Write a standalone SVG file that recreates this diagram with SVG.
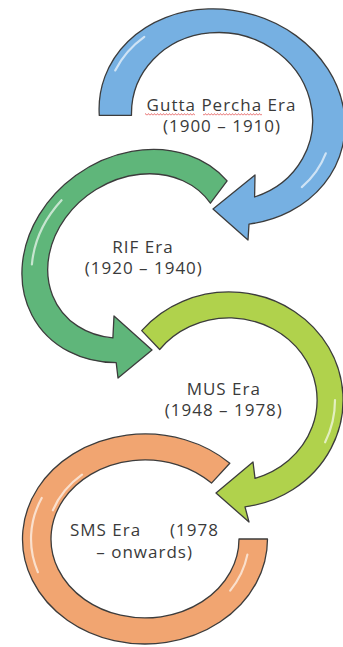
<svg xmlns="http://www.w3.org/2000/svg" width="343" height="647" viewBox="0 0 343 647">
<defs>
<style>
.band{stroke:#3c3c3c;stroke-width:1.3;stroke-linejoin:round}
.blue{fill:#76b0e2}
.green{fill:#5fb67a}
.lime{fill:#b0d24c}
.orange{fill:#f1a571}
.hl{fill:none;stroke:#ffffff;stroke-opacity:0.65;stroke-width:2.2;stroke-linecap:round}
.lbl{font-family:"Open Sans","Noto Sans","DejaVu Sans",sans-serif;font-size:17px;letter-spacing:1px;fill:#3a3a3a;text-anchor:middle}
</style>
<pattern id="squig" x="0" y="113" width="3" height="3" patternUnits="userSpaceOnUse">
<path d="M0,2.4 L1.5,0.6 L3,2.4" fill="none" stroke="#e03a3a" stroke-width="0.7"/>
</pattern>
</defs>
<rect width="343" height="647" fill="#ffffff"/>

<g id="gutta-percha-era">
<path class="band blue" d="M99.3,115.4 A124,107 15 1 1 249,224.1 L248,240 L213,209 L255,175 L254.6,197 A91,84 15 1 0 131.5,115.3 Z"/>
<path class="hl" d="M115.2,70.4 A117,100 15 0 1 144.3,36.8"/>
<path class="hl" d="M325.8,153.3 A110,94 15 0 1 301.8,187.1"/>
<rect x="145" y="113" width="50" height="3" fill="url(#squig)"/>
<rect x="203" y="113" width="59" height="3" fill="url(#squig)"/>
<text class="lbl"><tspan x="221.5" y="110.5">Gutta Percha Era</tspan><tspan x="222" y="132">(1900 – 1910)</tspan></text>
</g>

<g id="rif-era">
<path class="band green" d="M227.1,180.9 A119,100 -35 1 0 116.2,362.7 L118,378 L152,350 L114,316 L112.9,337.9 A92,77 -35 1 1 210.4,203.2 Z"/>
<path class="hl" d="M31.9,264.4 A109,91 -35 0 1 61.5,200.2"/>
<text class="lbl"><tspan x="143" y="252.5">RIF Era</tspan><tspan x="143.8" y="274">(1920 – 1940)</tspan></text>
</g>

<g id="mus-era">
<path class="band lime" d="M141.7,330.6 A114,108 0 1 1 245,506.9 L249,522 L216,493 L253,462 L255,478.3 A88,82 0 1 0 159.7,349.5 Z"/>
<path class="hl" d="M335,400 A106,100 0 0 1 325.1,442.3"/>
<text class="lbl"><tspan x="223.8" y="394.5">MUS Era</tspan><tspan x="223.8" y="416">(1948 – 1978)</tspan></text>
</g>

<g id="sms-era">
<path class="band orange" d="M229.8,463.2 A122.5,105 0 1 0 267.5,539 L239,539 A94,79 0 1 1 211.5,483.1 Z"/>
<path class="hl" d="M37.9,572.2 A114,97 0 0 1 41.7,498"/>
<path class="hl" d="M52.9,510.3 A98,84 0 0 1 82,474.7"/>
<path class="hl" d="M247.4,554.6 A104,90 0 0 1 230.2,590.6"/>
<text class="lbl"><tspan x="105.5" y="536">SMS Era</tspan><tspan x="194.5" y="536">(1978</tspan><tspan x="144.6" y="557.5">– onwards)</tspan></text>
</g>

<g id="connectors"></g>
</svg>
